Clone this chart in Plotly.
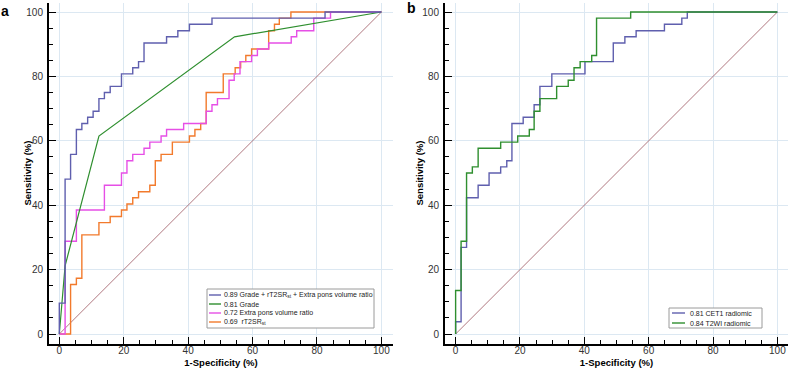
import plotly.graph_objects as go

W, H = 790, 368

# ---------------- data (ROC operating points, % ) ----------------
# Panel a
a_comb_fpr = [0, 0, 1.8, 3.5, 5.3, 7.0, 8.8, 10.5, 12.3, 14.0, 15.8, 19.3, 22.8, 24.6, 26.3, 33.3, 36.8, 40.4, 47.4, 82.5, 100]
a_comb_tpr = [0, 9.6, 48.1, 55.8, 63.5, 65.4, 67.3, 69.2, 73.1, 75.0, 76.9, 80.8, 82.7, 84.6, 90.4, 92.3, 94.2, 96.2, 98.1, 100, 100]

a_grade_fpr = [0, 1.8, 12.3, 54.4, 100]
a_grade_tpr = [0, 21.2, 61.5, 92.3, 100]

a_extra_fpr = [0, 1.8, 5.3, 14.0, 19.3, 21.0, 22.8, 26.3, 28.1, 31.6, 33.3, 38.6, 45.6, 47.4, 49.1, 52.7, 54.3, 56.1, 59.7, 61.5, 65.0, 72.0, 73.7, 79.0, 84.2, 100]
a_extra_tpr = [0, 28.8, 38.5, 46.2, 50.0, 53.8, 55.8, 57.7, 59.6, 61.5, 63.5, 65.4, 69.2, 71.2, 73.1, 78.8, 80.8, 84.6, 86.5, 88.5, 90.4, 92.3, 94.2, 98.1, 100, 100]

a_rt2_fpr = [0, 3.5, 5.3, 7.0, 12.3, 15.8, 19.3, 21.0, 22.8, 24.6, 28.1, 29.8, 31.6, 35.1, 40.4, 42.1, 43.9, 45.6, 50.9, 54.6, 56.3, 57.9, 59.7, 65.0, 66.8, 68.3, 71.9, 100]
a_rt2_tpr = [0, 15.4, 17.3, 30.8, 34.6, 36.5, 38.5, 40.4, 42.3, 44.2, 46.2, 53.8, 55.8, 59.6, 61.5, 63.5, 65.4, 75.0, 80.8, 82.7, 84.6, 86.5, 88.5, 94.2, 96.2, 98.1, 100, 100]

# Panel b
b_cet1_fpr = [0, 0, 1.7, 3.4, 7.0, 10.4, 14.0, 15.9, 17.5, 21.0, 24.4, 26.2, 29.9, 40.2, 49.0, 52.6, 56.1, 64.9, 70.3, 72.0, 100]
b_cet1_tpr = [0, 3.8, 26.9, 42.3, 46.2, 50.0, 51.9, 53.8, 65.4, 67.3, 71.2, 76.9, 80.8, 84.6, 90.4, 92.3, 94.2, 96.2, 98.1, 100, 100]

b_t2_fpr = [0, 0, 1.7, 3.4, 5.2, 7.0, 14.0, 19.3, 22.9, 24.4, 26.2, 31.4, 35.0, 36.8, 38.7, 42.3, 43.8, 54.4, 100]
b_t2_tpr = [0, 13.5, 28.8, 50.0, 51.9, 57.7, 59.6, 61.5, 63.5, 69.2, 73.1, 76.9, 78.8, 82.7, 84.6, 86.5, 98.1, 100, 100]

ref_line = [0, 100]

a_labels = ["0.89 Grade + rT2SR<sub>st</sub> + Extra pons volume ratio",
            "0.81 Grade",
            "0.72 Extra pons volume ratio",
            "0.69  rT2SR<sub>st</sub>"]
b_labels = ["0.81 CET1 radiomic", "0.84 T2WI radiomic"]

tick_vals = [0, 20, 40, 60, 80, 100]
tick_text = ["0", "20", "40", "60", "80", "100"]
x_title = "<b>1-Specificity (%)</b>"
y_title = "<b>Sensitivity (%)</b>"

# ---------------- styles ----------------
C_BLUE = "#5f5fae"
C_GREEN = "#2f8f2f"
C_MAG = "#e64fe6"
C_ORANGE = "#f27a2c"
C_DIAG = "#9c5560"
FONT = "Liberation Sans, Arial, sans-serif"

def px(x):
    return x / W

def py(y):
    return 1 - y / H

fig = go.Figure()

def add(xs, ys, color, xa, ya, shape="hv", width=1.4):
    fig.add_trace(go.Scatter(x=xs, y=ys, mode="lines", line=dict(color=color, width=width, shape=shape),
                             xaxis=xa, yaxis=ya, showlegend=False, hoverinfo="skip"))

# panel a
add(ref_line, ref_line, C_DIAG, "x", "y", shape="linear", width=0.8)
add(a_rt2_fpr, a_rt2_tpr, C_ORANGE, "x", "y")
add(a_extra_fpr, a_extra_tpr, C_MAG, "x", "y")
add(a_grade_fpr, a_grade_tpr, C_GREEN, "x", "y", shape="linear", width=1.2)
add(a_comb_fpr, a_comb_tpr, C_BLUE, "x", "y")
# panel b
add(ref_line, ref_line, C_DIAG, "x2", "y2", shape="linear", width=0.8)
add(b_cet1_fpr, b_cet1_tpr, C_BLUE, "x2", "y2")
add(b_t2_fpr, b_t2_tpr, C_GREEN, "x2", "y2")

def xaxis_cfg(dom, rng):
    return dict(domain=dom, range=rng, showline=True, linecolor="black", linewidth=2,
                showgrid=True, gridcolor="#dce8f2", gridwidth=1, zeroline=False,
                tickmode="array", tickvals=tick_vals, ticktext=tick_text,
                ticks="inside", ticklen=7, tickwidth=1, tickcolor="black",
                minor=dict(ticks="inside", ticklen=4, tickwidth=1, tickcolor="black", dtick=5, tick0=0, showgrid=False),
                tickfont=dict(family=FONT, size=10, color="#333"),
                ticklabelstandoff=-4,
                title=dict(text=x_title, font=dict(family=FONT, size=9.5, color="black"), standoff=6),
                automargin=False, fixedrange=True)

def yaxis_cfg(anchor, rng):
    return dict(domain=[py(344), py(3)], range=rng, anchor=anchor, showline=True, linecolor="black", linewidth=2,
                showgrid=True, gridcolor="#dce8f2", gridwidth=1, zeroline=False,
                tickmode="array", tickvals=tick_vals, ticktext=tick_text,
                ticks="inside", ticklen=7, tickwidth=1, tickcolor="black",
                minor=dict(ticks="inside", ticklen=4, tickwidth=1, tickcolor="black", dtick=5, tick0=0, showgrid=False),
                tickfont=dict(family=FONT, size=10, color="#333"),
                ticklabelstandoff=2,
                automargin=False, fixedrange=True)

fig.update_layout(
    width=W, height=H, margin=dict(l=0, r=0, t=0, b=0),
    paper_bgcolor="white", plot_bgcolor="white",
    font=dict(family=FONT),
    xaxis=dict(anchor="y", **xaxis_cfg([px(49), px(393)], [-3.2, 103.6])),
    yaxis=yaxis_cfg("x", [-3.1, 102.8]),
    xaxis2=dict(anchor="y2", **xaxis_cfg([px(445), px(788)], [-3.3, 103.3])),
    yaxis2=yaxis_cfg("x2", [-3.1, 102.8]),
)

shapes = []
annotations = []

def legend(box, line_x, text_x, rows, labels, colors):
    x0, x1, y0, y1 = box
    shapes.append(dict(type="rect", xref="paper", yref="paper", x0=px(x0), x1=px(x1), y0=py(y1), y1=py(y0),
                       line=dict(color="#9a9a9a", width=1), fillcolor="white", layer="above"))
    for yy, lab, col in zip(rows, labels, colors):
        shapes.append(dict(type="line", xref="paper", yref="paper", x0=px(line_x[0]), x1=px(line_x[1]),
                           y0=py(yy), y1=py(yy), line=dict(color=col, width=1.4), layer="above"))
        annotations.append(dict(text=lab, xref="paper", yref="paper", x=px(text_x), y=py(yy),
                                xanchor="left", yanchor="middle", showarrow=False,
                                font=dict(family=FONT, size=7, color="#222")))

legend((207, 374, 289, 328), (209, 221), 222, [295, 304, 313, 322], a_labels, [C_BLUE, C_GREEN, C_MAG, C_ORANGE])
legend((669, 762, 308, 328), (672, 685), 688, [313, 323], b_labels, [C_BLUE, C_GREEN])

# y-axis titles
for xc in (27, 419):
    annotations.append(dict(text=y_title, xref="paper", yref="paper", x=px(xc), y=py(173.5), textangle=-90,
                            xanchor="center", yanchor="middle", showarrow=False,
                            font=dict(family=FONT, size=9.5, color="black")))

annotations.append(dict(text="<b>a</b>", xref="paper", yref="paper", x=px(5), y=py(10.5), xanchor="center",
                        yanchor="middle", showarrow=False, font=dict(family=FONT, size=14, color="black")))
annotations.append(dict(text="<b>b</b>", xref="paper", yref="paper", x=px(411.5), y=py(8), xanchor="center",
                        yanchor="middle", showarrow=False, font=dict(family=FONT, size=14, color="black")))

fig.update_layout(shapes=shapes, annotations=annotations)
fig.write_html("out.html", config={"displayModeBar": False},
               post_script="document.body.style.margin='0';document.body.style.padding='0';")
